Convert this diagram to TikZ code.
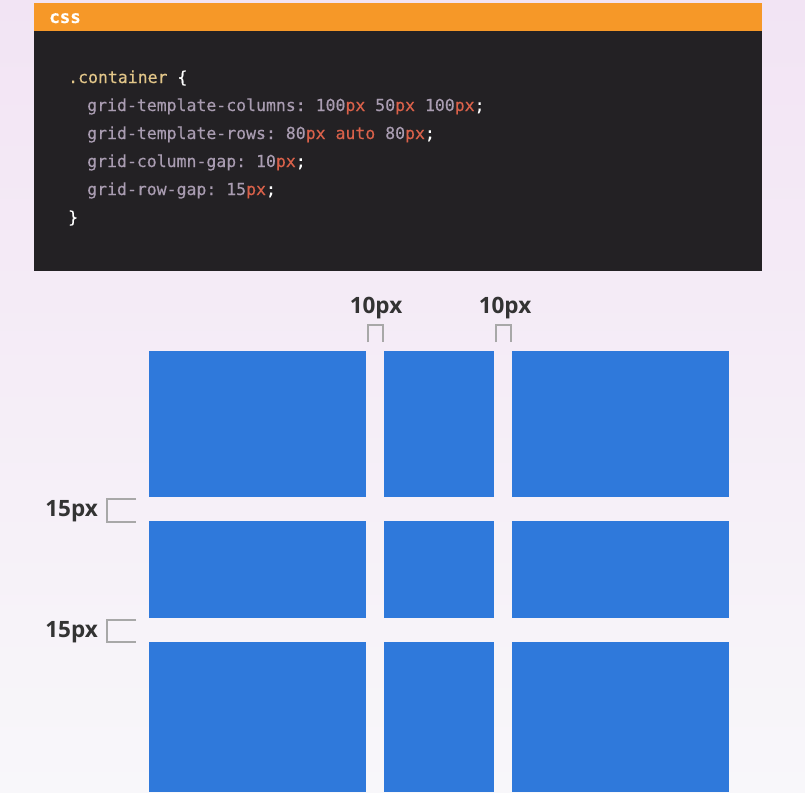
\documentclass[tikz,border=0pt]{standalone}
\usepackage{fontspec}
\setmainfont{Open Sans}
\setmonofont{DejaVu Sans Mono}[FakeBold=0.4]
\definecolor{bgtop}{HTML}{F2E4F4}
\definecolor{bgbottom}{HTML}{F8F7FA}
\definecolor{cssbar}{HTML}{F69828}
\definecolor{codebg}{HTML}{232124}
\definecolor{csssel}{HTML}{E2C689}
\definecolor{cssprop}{HTML}{A99CB1}
\definecolor{cssunit}{HTML}{D9614A}
\definecolor{cellblue}{HTML}{2F79DB}
\definecolor{markgray}{HTML}{A8A8A8}
\definecolor{labeltext}{HTML}{333333}
\newcommand{\unitpx}[1]{\textcolor{cssunit}{#1}}
\newcommand{\semi}{\textcolor{white}{;}}

\begin{document}
\begin{tikzpicture}[x=1pt, y=-1pt,
    codeline/.style={anchor=base west, inner sep=0pt, font=\ttfamily\fontsize{16.5}{18}\selectfont, text=cssprop},
    cell/.style={fill=cellblue, draw=none},
    gapmark/.style={draw=markgray, line width=2pt},
    gaplabel/.style={font=\bfseries\fontsize{22.5}{26}\selectfont, text=labeltext, inner sep=0pt, anchor=base}]
    \useasboundingbox (0,0) rectangle (805,792);
    \shade[top color=bgtop, bottom color=bgbottom] (0,0) rectangle (805,792);

    % code block
    \fill[codebg] (34,31) rectangle (762,271);
    \fill[cssbar] (34,3) rectangle (762,31);
    \node[anchor=base west, inner sep=0pt, text=white, font=\ttfamily\bfseries\fontsize{17.5}{18}\selectfont] (csstag) at (49,23) {css};

    \node[codeline, text=csssel] (line1) at (68,83) {.container \textcolor{white}{\{}};
    \node[codeline] (line2) at (87,111) {grid-template-columns: 100\unitpx{px} 50\unitpx{px} 100\unitpx{px}\semi};
    \node[codeline] (line3) at (87,139) {grid-template-rows: 80\unitpx{px} \unitpx{auto} 80\unitpx{px}\semi};
    \node[codeline] (line4) at (87,167) {grid-column-gap: 10\unitpx{px}\semi};
    \node[codeline] (line5) at (87,195) {grid-row-gap: 15\unitpx{px}\semi};
    \node[codeline, text=white] (line6) at (68,223) {\}};

    % grid cells
    \fill[cell] (149,351) rectangle (366,497);
    \fill[cell] (384,351) rectangle (494,497);
    \fill[cell] (512,351) rectangle (729,497);
    \fill[cell] (149,521) rectangle (366,618);
    \fill[cell] (384,521) rectangle (494,618);
    \fill[cell] (512,521) rectangle (729,618);
    \fill[cell] (149,642) rectangle (366,792);
    \fill[cell] (384,642) rectangle (494,792);
    \fill[cell] (512,642) rectangle (729,792);

    % column gaps
    \draw[gapmark] (367.5,342) -- (367.5,325) -- (382.5,325) -- (382.5,342);
    \draw[gapmark] (495.5,342) -- (495.5,325) -- (510.5,325) -- (510.5,342);
    \node[gaplabel] (colgapa) at (376,313) {10px};
    \node[gaplabel] (colgapb) at (505,313) {10px};

    % row gaps
    \draw[gapmark] (136,498.5) -- (106.5,498.5) -- (106.5,521.5) -- (136,521.5);
    \draw[gapmark] (136,619.5) -- (106.5,619.5) -- (106.5,641.5) -- (136,641.5);
    \node[gaplabel, anchor=base east] (rowgapa) at (98,516) {15px};
    \node[gaplabel, anchor=base east] (rowgapb) at (98,637) {15px};
\end{tikzpicture}
\end{document}
